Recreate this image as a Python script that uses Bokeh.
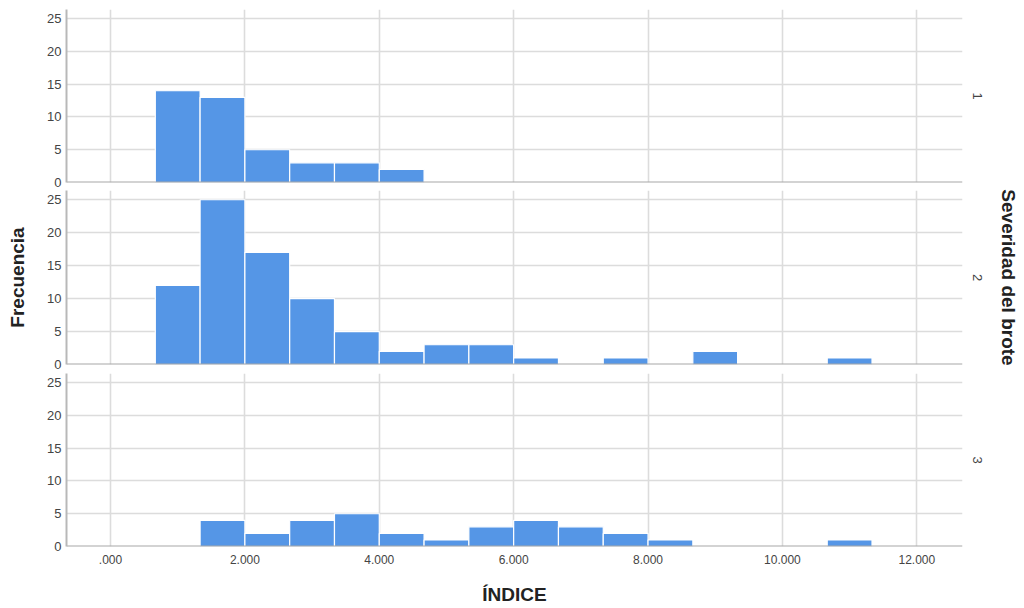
from bokeh.plotting import figure
from bokeh.models import Range1d, LinearAxis, FixedTicker, CustomJSTickFormatter, ColumnDataSource
from bokeh.layouts import column
from bokeh.embed import file_html
from bokeh.resources import INLINE

# Bin edges of the histogram (ÍNDICE), width 2/3
bin_left = [0.6667, 1.3333, 2.0, 2.6667, 3.3333, 4.0, 4.6667, 5.3333, 6.0,
            6.6667, 7.3333, 8.0, 8.6667, 9.3333, 10.0, 10.6667, 11.3333]
bin_right = [1.3333, 2.0, 2.6667, 3.3333, 4.0, 4.6667, 5.3333, 6.0, 6.6667,
             7.3333, 8.0, 8.6667, 9.3333, 10.0, 10.6667, 11.3333, 12.0]

# Frequencies per severity group
sev1 = [14, 13, 5, 3, 3, 2, 0, 0, 0, 0, 0, 0, 0, 0, 0, 0, 0]
sev2 = [12, 25, 17, 10, 5, 2, 3, 3, 1, 0, 1, 0, 2, 0, 0, 1, 0]
sev3 = [0, 4, 2, 4, 5, 2, 1, 3, 4, 3, 2, 1, 0, 0, 0, 1, 0]

groups = ["1", "2", "3"]
x_ticks = [0, 2, 4, 6, 8, 10, 12]
y_ticks = [0, 5, 10, 15, 20, 25]

BAR = "#5596e6"
GRID = "#dcdcdc"
TXT = "#444444"
FONT = "Liberation Sans"

FW = 896
X0, X1 = -0.655, 12.68
xr = Range1d(X0, X1)
YMAX = 26.4

def no_ticks(ax):
    ax.major_tick_line_color = None
    ax.minor_tick_line_color = None
    ax.major_tick_out = 0
    ax.major_tick_in = 0
    ax.minor_tick_out = 0
    ax.minor_tick_in = 0

def make(counts, label, top_b, bot_b, fh, last, mid):
    p = figure(frame_width=FW, frame_height=fh, x_range=xr,
               y_range=Range1d(0, YMAX),
               output_backend="svg", toolbar_location=None,
               min_border_left=66, min_border_right=58,
               min_border_top=top_b, min_border_bottom=bot_b,
               x_axis_location="below" if last else None)
    p.outline_line_color = None
    p.background_fill_color = "white"
    p.border_fill_color = "white"
    src = ColumnDataSource(dict(l=bin_left, r=bin_right, t=counts,
                                b=[0] * len(counts)))
    # grid
    p.xgrid.ticker = FixedTicker(ticks=x_ticks)
    p.ygrid.ticker = FixedTicker(ticks=y_ticks)
    p.xgrid.grid_line_color = GRID
    p.ygrid.grid_line_color = GRID
    p.xgrid.grid_line_width = 1.6
    p.ygrid.grid_line_width = 1.6
    p.quad(left="l", right="r", top="t", bottom="b", source=src,
           fill_color=BAR, line_color="white", line_width=1.2)
    # baseline
    p.segment(x0=[X0], x1=[X1], y0=[0], y1=[0],
              line_color="#a8a8a8", line_width=2.2)
    # y axis
    ya = p.yaxis[0]
    ya.ticker = FixedTicker(ticks=y_ticks)
    ya.axis_line_color = "#b8b8b8"
    ya.axis_line_width = 2
    no_ticks(ya)
    ya.major_label_text_font = FONT
    ya.major_label_text_font_size = "13px"
    ya.major_label_text_color = TXT
    ya.major_label_standoff = 5
    if mid:
        ya.axis_label = "Frecuencia"
        ya.axis_label_text_font = FONT
        ya.axis_label_text_font_size = "19px"
        ya.axis_label_text_font_style = "bold"
        ya.axis_label_text_color = "#222222"
        ya.axis_label_standoff = 16
    if last:
        xa = p.xaxis[0]
        xa.ticker = FixedTicker(ticks=x_ticks)
        xa.formatter = CustomJSTickFormatter(code="""
            var s = tick.toFixed(3);
            var parts = s.split('.');
            var ip = parts[0] === '0' ? '' : parts[0];
            return ip + '.' + parts[1];
        """)
        xa.axis_line_color = None
        no_ticks(xa)
        xa.major_label_text_font = FONT
        xa.major_label_text_font_size = "12px"
        xa.major_label_text_color = TXT
        xa.major_label_standoff = 8
        xa.axis_label = "ÍNDICE"
        xa.axis_label_text_font = FONT
        xa.axis_label_text_font_size = "19px"
        xa.axis_label_text_font_style = "bold"
        xa.axis_label_text_color = "#222222"
        xa.axis_label_standoff = 17
    # panel label on the right (rotated, reading top to bottom)
    ra = LinearAxis(ticker=FixedTicker(ticks=[]), axis_label=label,
                    axis_line_color=None,
                    axis_label_text_font=FONT, axis_label_text_font_size="13px",
                    axis_label_text_font_style="normal",
                    axis_label_text_color=TXT, axis_label_standoff=10)
    no_ticks(ra)
    p.add_layout(ra, "right")
    if mid:
        ra2 = LinearAxis(ticker=FixedTicker(ticks=[]),
                         axis_label="Severidad del brote",
                         axis_line_color=None,
                         axis_label_text_font=FONT,
                         axis_label_text_font_size="19px",
                         axis_label_text_font_style="bold",
                         axis_label_text_color="#222222",
                         axis_label_standoff=13)
        no_ticks(ra2)
        p.add_layout(ra2, "right")
    return p

p1 = make(sev1, groups[0], 9, 7, 173, False, False)
p2 = make(sev2, groups[1], 1, 7, 174, False, True)
p3 = make(sev3, groups[2], 2, 40, 173, True, False)

layout = column(p1, p2, p3, spacing=0)
open("out.html", "w").write(file_html(layout, INLINE))
